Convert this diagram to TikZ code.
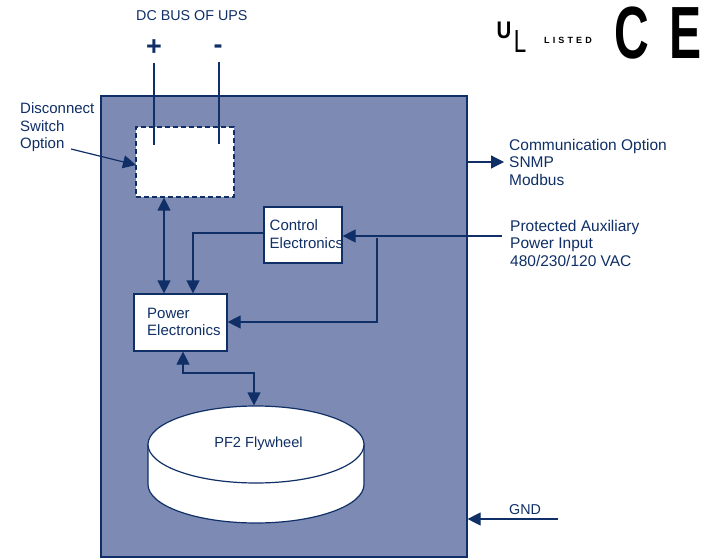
\documentclass[tikz,border=0pt]{standalone}
\usepackage{fontspec}
\usepackage{graphicx}
\setmainfont{Liberation Sans}
\usetikzlibrary{arrows.meta,shapes.geometric}
\definecolor{navy}{HTML}{0F2F66}
\definecolor{panel}{HTML}{7D8BB4}
\tikzset{
  x=1pt,y=-1pt,
  wire/.style={draw=navy,line width=1.2pt},
  tip/.style={-{Triangle[length=13pt,width=13pt]}},
  twotip/.style={{Triangle[length=13pt,width=13pt]}-{Triangle[length=13pt,width=13pt]}},
  whitebox/.style={draw=navy,fill=white,line width=1.2pt,inner sep=0pt},
  label/.style={text=navy,font=\fontsize{15}{17.5}\selectfont,align=left,inner sep=0pt,anchor=north west},
  certmark/.style={text=black,inner sep=0pt},
}
\begin{document}
\begin{tikzpicture}
\useasboundingbox (0,0) rectangle (705,559);
\fill[white] (0,0) rectangle (705,559);
\node[draw=navy,fill=panel,line width=1.2pt,minimum width=366pt,minimum height=461pt,inner sep=0pt] (panel) at (284,326.5) {};
\node[whitebox,dash pattern=on 5pt off 3pt,minimum width=98pt,minimum height=70pt] (switch) at (185,162) {};
\node[whitebox,minimum width=78pt,minimum height=56pt] (control) at (303,235) {};
\node[whitebox,minimum width=93pt,minimum height=57pt] (power) at (180.5,322.5) {};
\coordinate (plusTop) at (154,63);
\coordinate (plusEnd) at (154,145);
\coordinate (minusTop) at (219,62);
\coordinate (minusEnd) at (219,144);
\draw[wire] (plusTop) -- (plusEnd);
\draw[wire] (minusTop) -- (minusEnd);
\node[label,font=\fontsize{14.3}{17.5}\selectfont] (dcbus) at (136,10) {DC BUS OF UPS};
\node[text=navy,font=\bfseries\fontsize{27}{27}\selectfont,inner sep=0pt] (plus) at (154,48) {+};
\node[text=navy,font=\bfseries\fontsize{27}{27}\selectfont,inner sep=0pt] (minus) at (218,49) {-};
\node[label] (disc) at (20,102.5) {Disconnect\\Switch\\Option};
\coordinate (discStart) at (71,149);
\coordinate (discEnd) at (136,165);
\draw[wire,tip] (discStart) -- (discEnd);
\node[label] (ctext) at (269.5,219.5) {Control\\Electronics};
\node[label] (ptext) at (147,307.5) {Power\\Electronics};
\coordinate (sp) at (164,0);
\draw[wire,twotip] (switch.south -| sp) -- (power.north -| sp);
\coordinate (cbend) at (193,233);
\draw[wire,tip] (control.west |- cbend) -- (cbend) -- (power.north -| cbend);
\coordinate (auxEnd) at (502,236);
\draw[wire,tip] (auxEnd) -- (control.east |- auxEnd);
\coordinate (auxTap) at (377,238);
\coordinate (auxBend) at (377,322);
\draw[wire,tip] (auxTap) -- (auxBend) -- (power.east |- auxBend);
% flywheel
\path[draw=navy,fill=white,line width=1.2pt] (148,444.5) -- (148,484.5) arc[start angle=180,end angle=360,x radius=108pt,y radius=38.5pt] -- (364,444.5) -- cycle;
\node[draw=navy,fill=white,line width=1.2pt,ellipse,minimum width=216pt,minimum height=77pt,inner sep=0pt] (fly) at (256,444.5) {};
\node[text=navy,font=\fontsize{14.6}{15}\selectfont,inner sep=0pt] (flytext) at (258.5,444) {PF2 Flywheel};
\coordinate (ba) at (183,373);
\coordinate (bb) at (254,373);
\draw[wire,twotip] (power.south -| ba) -- (ba) -- (bb) -- (fly.north -| bb);
% right side
\coordinate (commEnd) at (504,162);
\draw[wire,tip] (panel.east |- commEnd) -- (commEnd);
\node[label,font=\fontsize{15.5}{17.5}\selectfont] (comm) at (509,139) {Communication Option\\SNMP\\Modbus};
\node[label,font=\fontsize{15.5}{17.5}\selectfont] (aux) at (510,220) {Protected Auxiliary\\Power Input\\480/230/120 VAC};
\coordinate (gndEnd) at (558,519);
\draw[wire,tip] (gndEnd) -- (panel.east |- gndEnd);
\node[label,font=\fontsize{14.3}{17.5}\selectfont] (gnd) at (509,504) {GND};
% certification marks
\node[certmark,font=\bfseries\fontsize{24}{24}\selectfont] (ulu) at (504,30) {\scalebox{0.85}[1]{U}};
\node[certmark,font=\fontsize{32}{32}\selectfont] (ull) at (520,41.5) {\scalebox{0.7}[1]{L}};
\node[certmark,font=\bfseries\fontsize{9}{9}\selectfont] (listed) at (568,40.5) {\addfontfeature{LetterSpace=35}LISTED};
\node[certmark,font=\bfseries\fontsize{74}{74}\selectfont] (cmark) at (632,33) {\scalebox{0.65}[1]{C}};
\node[certmark,font=\bfseries\fontsize{74}{74}\selectfont] (emark) at (686,33) {\scalebox{0.65}[1]{E}};
\end{tikzpicture}
\end{document}
